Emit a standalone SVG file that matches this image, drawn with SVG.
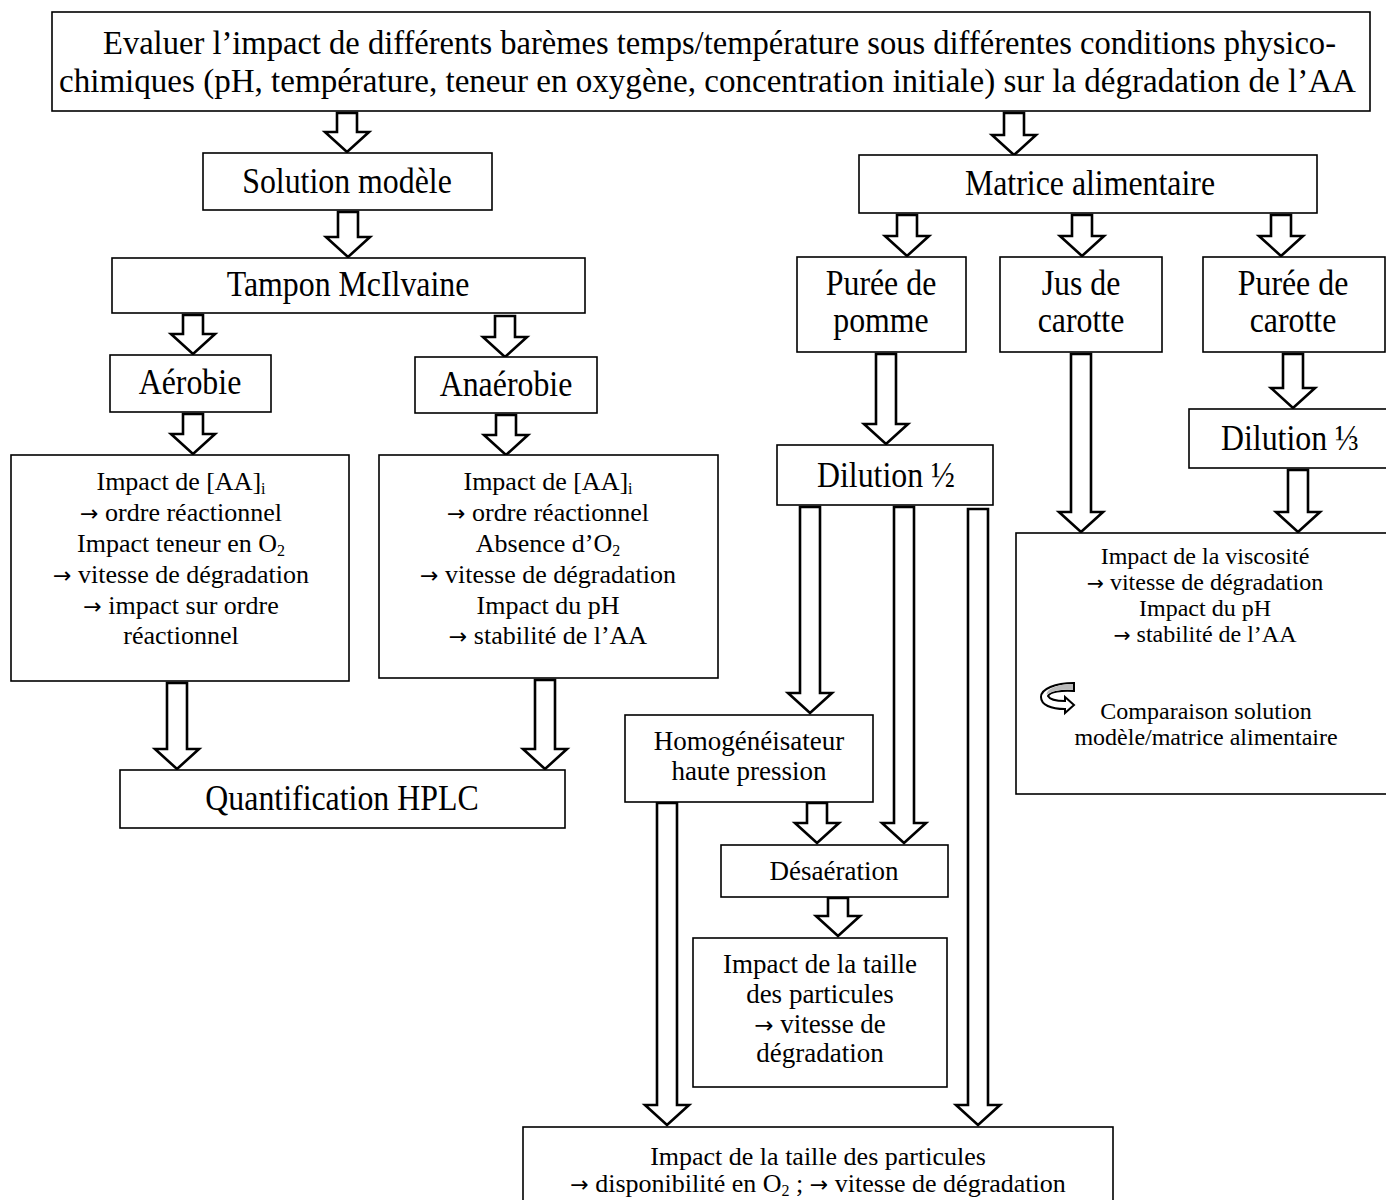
<svg xmlns="http://www.w3.org/2000/svg" width="1386" height="1200" viewBox="0 0 1386 1200">
<style>
.box{fill:#fff;stroke:#000;stroke-width:1.6}
.arr{fill:#fff;stroke:#000;stroke-width:2.6;stroke-linejoin:miter}
text{font-family:"Liberation Serif","Times New Roman",serif;fill:#000;text-anchor:middle}
.t{font-size:33px;text-anchor:start}
.h{font-size:35px}
.c{font-size:26px}
.d{font-size:27px}
.b{font-size:26px}
.v{font-size:24px}
.sub{font-size:16px}
.ar{font-family:"DejaVu Sans",sans-serif;font-size:0.85em}
</style>
<rect width="1386" height="1200" fill="#fff"/>
<g id="connectors">
<path class="arr" d="M337,113H357V132H369L347,152L325,132H337Z"/>
<path class="arr" d="M1004,113H1024V135H1036L1014,155L992,135H1004Z"/>
<path class="arr" d="M338,212H358V237H370L348,257L326,237H338Z"/>
<path class="arr" d="M183,315H203V334H215L193,354L171,334H183Z"/>
<path class="arr" d="M495,316H515V337H527L505,357L483,337H495Z"/>
<path class="arr" d="M183,414H203V434H215L193,454L171,434H183Z"/>
<path class="arr" d="M496,415H516V435H528L506,455L484,435H496Z"/>
<path class="arr" d="M167,683H187V749H199L177,769L155,749H167Z"/>
<path class="arr" d="M535,680H555V749H567L545,769L523,749H535Z"/>
<path class="arr" d="M897,215H917V236H929L907,256L885,236H897Z"/>
<path class="arr" d="M1072,215H1092V236H1104L1082,256L1060,236H1072Z"/>
<path class="arr" d="M1271,215H1291V236H1303L1281,256L1259,236H1271Z"/>
<path class="arr" d="M876,354H896V424H908L886,444L864,424H876Z"/>
<path class="arr" d="M1071,354H1091V512H1103L1081,532L1059,512H1071Z"/>
<path class="arr" d="M1283,354H1303V388H1315L1293,408L1271,388H1283Z"/>
<path class="arr" d="M1288,470H1308V512H1320L1298,532L1276,512H1288Z"/>
<path class="arr" d="M800,507H820V693H832L810,713L788,693H800Z"/>
<path class="arr" d="M894,507H914V823H926L904,843L882,823H894Z"/>
<path class="arr" d="M968,509H988V1105H1000L978,1125L956,1105H968Z"/>
<path class="arr" d="M807,803H827V823H839L817,843L795,823H807Z"/>
<path class="arr" d="M657,803H677V1105H689L667,1125L645,1105H657Z"/>
<path class="arr" d="M828,898H848V916H860L838,936L816,916H828Z"/>
</g>
<g id="n-top">
<rect class="box" x="52" y="12" width="1318" height="99"/>
<text class="t" x="103" y="54" textLength="1233" lengthAdjust="spacingAndGlyphs">Evaluer l’impact de différents barèmes temps/température sous différentes conditions physico-</text>
<text class="t" x="59" y="92" textLength="1297" lengthAdjust="spacingAndGlyphs">chimiques (pH, température, teneur en oxygène, concentration initiale) sur la dégradation de l’AA</text>
</g>
<g id="n-solution">
<rect class="box" x="203" y="153" width="289" height="57"/>
<text class="h" transform="translate(347,193) scale(0.91,1)">Solution modèle</text>
</g>
<g id="n-tampon">
<rect class="box" x="112" y="258" width="473" height="55"/>
<text class="h" transform="translate(348,296) scale(0.91,1)">Tampon McIlvaine</text>
</g>
<g id="n-aerobie">
<rect class="box" x="110" y="355" width="161" height="57"/>
<text class="h" transform="translate(190,394) scale(0.91,1)">Aérobie</text>
</g>
<g id="n-anaerobie">
<rect class="box" x="415" y="357" width="182" height="56"/>
<text class="h" transform="translate(506,396) scale(0.91,1)">Anaérobie</text>
</g>
<g id="n-aero-impact">
<rect class="box" x="11" y="455" width="338" height="226"/>
<text class="c" x="181" y="490">Impact de [AA]<tspan class="sub" dy="4">i</tspan></text>
<text class="c" x="181" y="521"><tspan class="ar">→</tspan> ordre réactionnel</text>
<text class="c" x="181" y="552">Impact teneur en O<tspan class="sub" dy="4">2</tspan></text>
<text class="c" x="181" y="583"><tspan class="ar">→</tspan> vitesse de dégradation</text>
<text class="c" x="181" y="614"><tspan class="ar">→</tspan> impact sur ordre</text>
<text class="c" x="181" y="644">réactionnel</text>
</g>
<g id="n-anaero-impact">
<rect class="box" x="379" y="455" width="339" height="223"/>
<text class="c" x="548" y="490">Impact de [AA]<tspan class="sub" dy="4">i</tspan></text>
<text class="c" x="548" y="521"><tspan class="ar">→</tspan> ordre réactionnel</text>
<text class="c" x="548" y="552">Absence d’O<tspan class="sub" dy="4">2</tspan></text>
<text class="c" x="548" y="583"><tspan class="ar">→</tspan> vitesse de dégradation</text>
<text class="c" x="548" y="614">Impact du pH</text>
<text class="c" x="548" y="644"><tspan class="ar">→</tspan> stabilité de l’AA</text>
</g>
<g id="n-hplc">
<rect class="box" x="120" y="770" width="445" height="58"/>
<text class="h" transform="translate(342,810) scale(0.91,1)">Quantification HPLC</text>
</g>
<g id="n-matrice">
<rect class="box" x="859" y="155" width="458" height="58"/>
<text class="h" transform="translate(1090,195) scale(0.91,1)">Matrice alimentaire</text>
</g>
<g id="n-puree-pomme">
<rect class="box" x="797" y="257" width="169" height="95"/>
<text class="h" transform="translate(881,295) scale(0.91,1)">Purée de</text>
<text class="h" transform="translate(881,332) scale(0.91,1)">pomme</text>
</g>
<g id="n-jus-carotte">
<rect class="box" x="1000" y="257" width="162" height="95"/>
<text class="h" transform="translate(1081,295) scale(0.91,1)">Jus de</text>
<text class="h" transform="translate(1081,332) scale(0.91,1)">carotte</text>
</g>
<g id="n-puree-carotte">
<rect class="box" x="1203" y="257" width="182" height="95"/>
<text class="h" transform="translate(1293,295) scale(0.91,1)">Purée de</text>
<text class="h" transform="translate(1293,332) scale(0.91,1)">carotte</text>
</g>
<g id="n-dilution-half">
<rect class="box" x="777" y="445" width="216" height="60"/>
<text class="h" transform="translate(886,487) scale(0.91,1)">Dilution ½</text>
</g>
<g id="n-dilution-third">
<rect class="box" x="1189" y="409" width="210" height="59"/>
<text class="h" transform="translate(1290,450) scale(0.91,1)">Dilution ⅓</text>
</g>
<g id="n-viscosite">
<rect class="box" x="1016" y="533" width="380" height="261"/>
<text class="v" x="1205" y="564">Impact de la viscosité</text>
<text class="v" x="1205" y="590"><tspan class="ar">→</tspan> vitesse de dégradation</text>
<text class="v" x="1205" y="616">Impact du pH</text>
<text class="v" x="1205" y="642"><tspan class="ar">→</tspan> stabilité de l’AA</text>
<g transform="translate(1039,683)">
<path d="M35,0V8C22,7 11,9 9,13C11,17 18,18 26,18V14L35,22L26,30V26C12,26 2,22 2,14C2,6 16,0 35,0Z" fill="#fff" stroke="#000" stroke-width="2"/>
<path d="M34,1V7C22,6 11,8 8,12C6,7 17,1 34,1Z" fill="#bbb"/>
</g>
<text class="v" x="1206" y="719">Comparaison solution</text>
<text class="v" x="1206" y="745">modèle/matrice alimentaire</text>
</g>
<g id="n-homogeneisateur">
<rect class="box" x="625" y="715" width="248" height="87"/>
<text class="d" x="749" y="750">Homogénéisateur</text>
<text class="d" x="749" y="780">haute pression</text>
</g>
<g id="n-desaeration">
<rect class="box" x="721" y="845" width="227" height="52"/>
<text class="d" x="834" y="880">Désaération</text>
</g>
<g id="n-taille">
<rect class="box" x="693" y="938" width="254" height="149"/>
<text class="d" x="820" y="973">Impact de la taille</text>
<text class="d" x="820" y="1003">des particules</text>
<text class="d" x="820" y="1033"><tspan class="ar">→</tspan> vitesse de</text>
<text class="d" x="820" y="1062">dégradation</text>
</g>
<g id="n-bottom">
<rect class="box" x="523" y="1127" width="590" height="90"/>
<text class="b" x="818" y="1165">Impact de la taille des particules</text>
<text class="b" x="818" y="1192"><tspan class="ar">→</tspan> disponibilité en O<tspan class="sub" dy="4">2</tspan><tspan dy="-4"> ; </tspan><tspan class="ar">→</tspan> vitesse de dégradation</text>
</g>
</svg>
